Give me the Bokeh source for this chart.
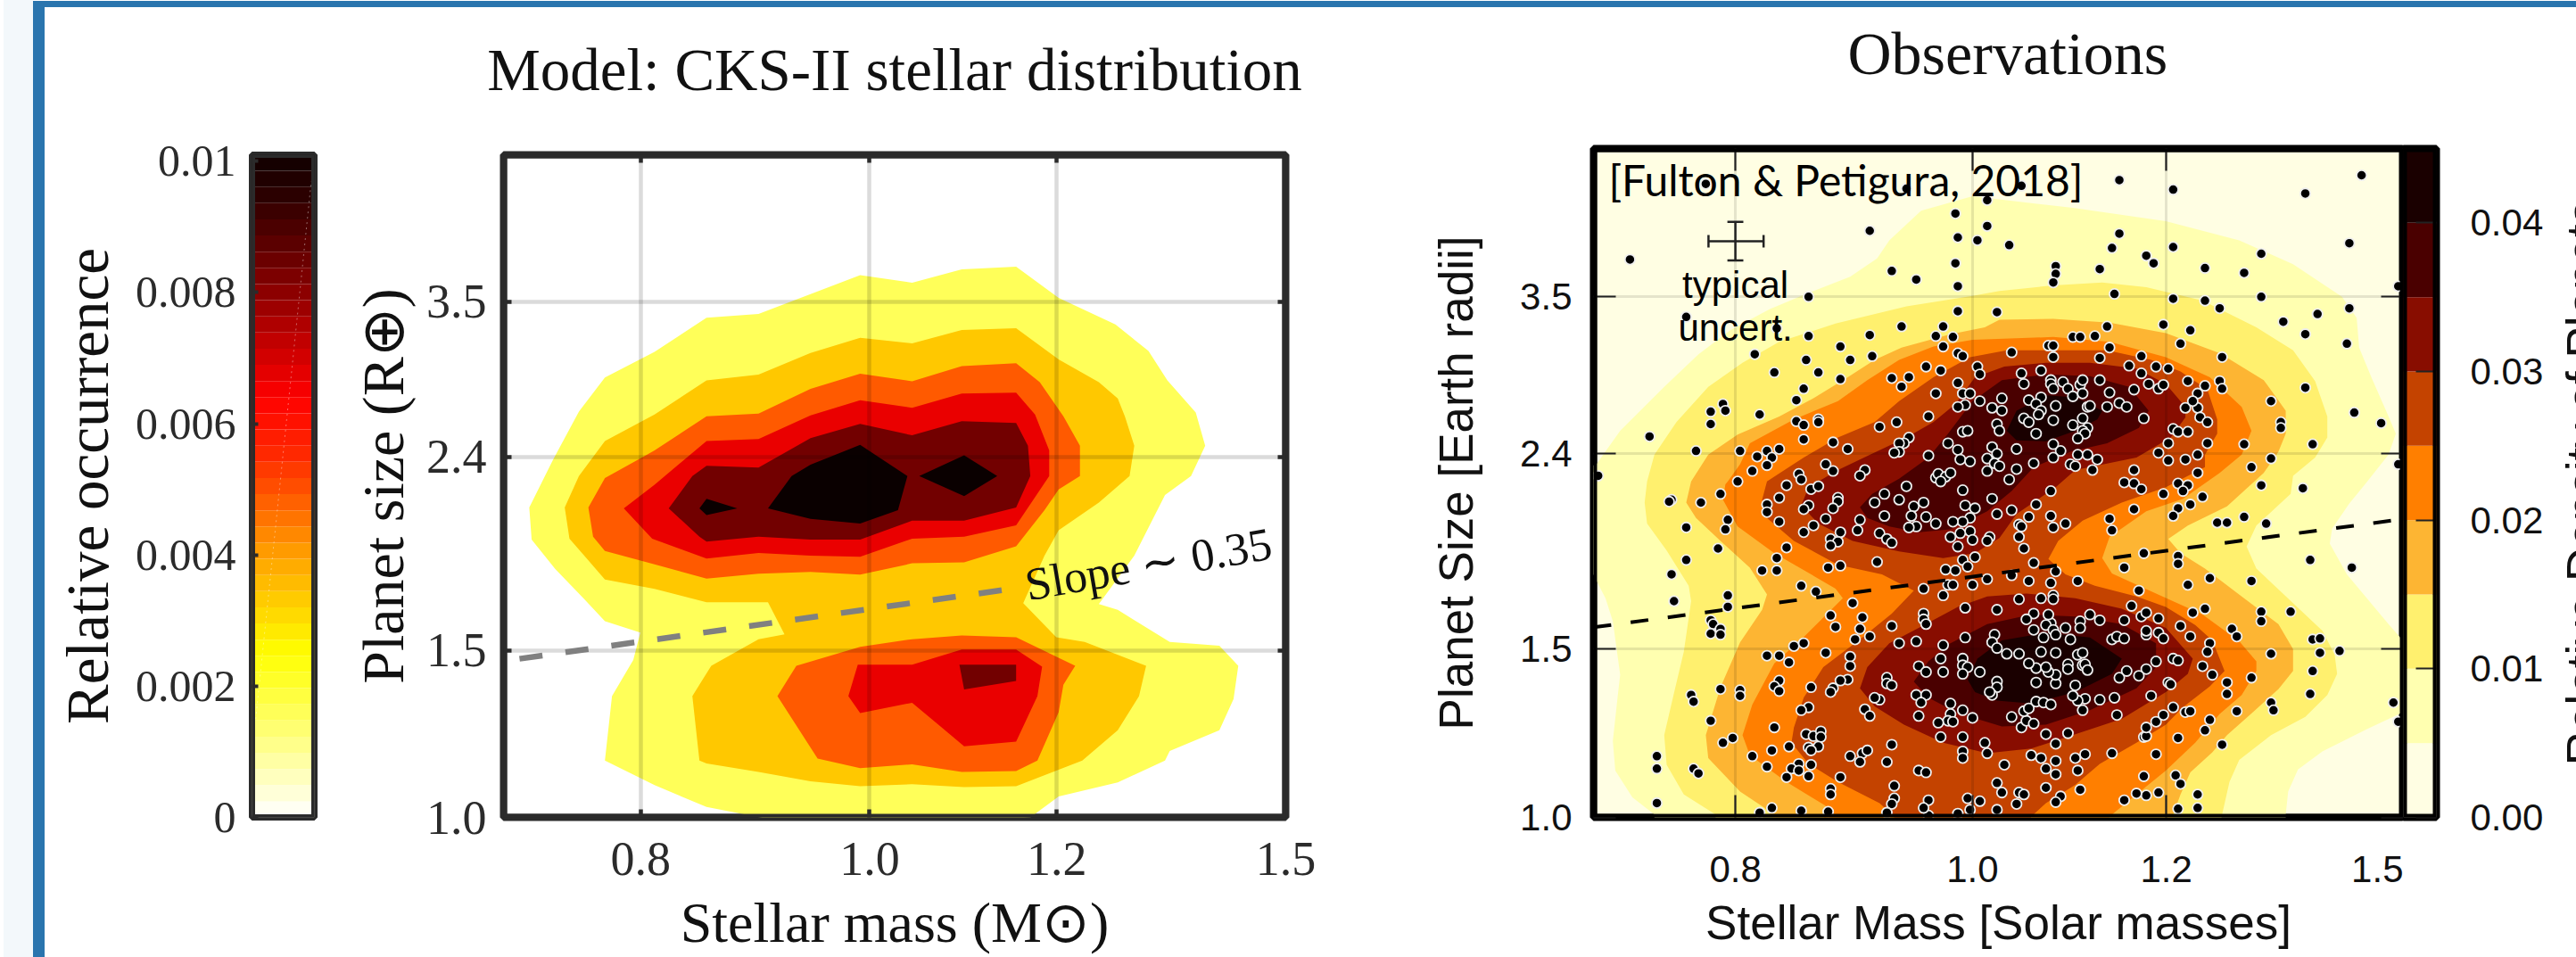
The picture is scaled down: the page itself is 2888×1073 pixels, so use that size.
import numpy as np
from bokeh.embed import file_html
from bokeh.layouts import row
from bokeh.models import BoxAnnotation, FixedTicker, LinearAxis, LogAxis, PrintfTickFormatter, Range1d, Title
from bokeh.plotting import figure
from bokeh.resources import INLINE
from bokeh.core.properties import value

# ---------- values: (log10 stellar mass, log10 planet radius) ----------
x_ticks = [0.8, 1.0, 1.2, 1.5]
y_ticks = [1.0, 1.5, 2.4, 3.5]
left_cb_ticks = [0, 0.002, 0.004, 0.006, 0.008, 0.01]
right_cb_ticks = [0.0, 0.01, 0.02, 0.03, 0.04]
right_levels = [0.0, 0.005, 0.01, 0.015, 0.02, 0.025, 0.03, 0.035, 0.04, 0.045]
right_colors = ["#fffee3", "#ffffb0", "#fff06e", "#fdb533", "#ff7f00", "#c44300", "#880d00", "#4a0000", "#1a0000"]
left_cb_stops = [(0, "#ffffff"), (0.0012, "#ffff80"), (0.0025, "#ffff00"), (0.004, "#ffa000"), (0.0055, "#ff2a00"),
                 (0.0064, "#ff0000"), (0.008, "#8c0000"), (0.0095, "#2a0000"), (0.0101, "#100000")]

model_1 = [(-.004,.572),(.018,.564),(.039,.578),(.062,.581),(.080,.548),(.104,.520),(.118,.492),(.126,.461),(.138,.427),(.142,.392),(.136,.360),(.125,.340),(.112,.276),(.097,.225),(.105,.219),(.127,.185),(.148,.181),(.156,.160),(.154,.125),(.148,.092),(.127,.070),(.125,.060),(.105,.037),(.080,.022),(.068,.000),(.038,-.005),(-.036,-.005),(-.069,.011),(-.091,.034),(-.112,.060),(-.109,.128),(-.100,.166),(-.097,.195),(-.112,.207),(-.121,.231),(-.133,.262),(-.143,.293),(-.144,.327),(-.134,.377),(-.123,.428),(-.112,.464),(-.091,.491),(-.069,.527),(-.047,.531),(-.025,.552)]
model_2 = [(-.004,.506),(.018,.500),(.039,.514),(.062,.516),(.080,.483),(.097,.459),(.105,.442),(.108,.423),(.112,.392),(.110,.360),(.097,.332),(.080,.303),(.074,.276),(.065,.226),(.079,.190),(.091,.185),(.117,.160),(.114,.128),(.105,.092),(.090,.060),(.062,.033),(.040,.032),(.018,.035),(-.004,.033),(-.025,.038),(-.047,.048),(-.069,.057),(-.072,.060),(-.075,.128),(-.067,.160),(-.047,.188),(-.036,.193),(-.043,.227),(-.069,.227),(-.091,.241),(-.112,.251),(-.120,.274),(-.127,.294),(-.129,.327),(-.123,.360),(-.112,.397),(-.091,.425),(-.069,.461),(-.047,.467),(-.025,.490)]
model_3a = [(-.004,.468),(.018,.460),(.039,.476),(.062,.479),(.072,.459),(.082,.423),(.089,.392),(.089,.360),(.080,.346),(.074,.324),(.062,.286),(.040,.269),(.018,.268),(-.004,.256),(-.025,.259),(-.047,.257),(-.069,.252),(-.091,.267),(-.112,.281),(-.117,.296),(-.119,.327),(-.112,.358),(-.091,.387),(-.069,.423),(-.047,.426),(-.025,.452)]
model_3b = [(-.031,.160),(-.004,.180),(.018,.188),(.039,.192),(.062,.190),(.087,.160),(.082,.140),(.080,.111),(.071,.060),(.062,.049),(.039,.048),(.018,.056),(-.004,.052),(-.022,.062),(-.039,.128)]
model_4a = [(-.004,.440),(.018,.432),(.039,.447),(.062,.448),(.070,.425),(.076,.387),(.076,.360),(.062,.308),(.040,.296),(.018,.294),(-.004,.275),(-.025,.276),(-.047,.279),(-.069,.273),(-.092,.294),(-.104,.326),(-.091,.351),(-.069,.397),(-.047,.399),(-.025,.424)]
model_4b = [(-.005,.161),(.018,.161),(.039,.177),(.062,.177),(.073,.159),(.071,.128),(.062,.080),(.040,.075),(.030,.096),(.018,.121),(-.004,.110),(-.009,.128)]
model_5a = [(-.004,.415),(.018,.403),(.039,.418),(.062,.416),(.067,.392),(.068,.360),(.062,.327),(.040,.313),(.018,.313),(-.004,.293),(-.025,.293),(-.047,.296),(-.069,.291),(-.072,.296),(-.085,.326),(-.075,.360),(-.069,.371),(-.047,.369),(-.025,.400)]
model_5b = [(.038,.161),(.062,.161),(.062,.144),(.040,.135)]
model_6a = [(-.004,.393),(.016,.360),(.012,.324),(-.004,.310),(-.025,.315),(-.043,.326),(-.033,.360),(-.025,.372)]
model_6b = [(.040,.382),(.054,.360),(.040,.339),(.021,.360)]
model_6c = [(-.069,.336),(-.056,.326),(-.069,.319),(-.072,.326)]
model_regions = [("#ffff59", model_1), ("#ffc800", model_2), ("#ff5a00", model_3a), ("#ff5a00", model_3b),
                 ("#ea0000", model_4a), ("#ea0000", model_4b), ("#720000", model_5a), ("#720000", model_5b),
                 ("#0a0000", model_6a), ("#0a0000", model_6b), ("#0a0000", model_6c)]

obs_1 = [(-.160,.368),(-.154,.368),(-.144,.404),(-.126,.450),(-.112,.484),(-.099,.509),(-.083,.531),(-.068,.547),(-.050,.565),(-.039,.584),(-.034,.603),(-.021,.634),(0,.649),(.041,.637),(.079,.623),(.109,.603),(.131,.578),(.151,.544),(.157,.522),(.158,.491),(.163,.460),(.169,.425),(.173,.401),(.170,.379),(.161,.350),(.154,.328),(.147,.302),(.146,.286),(.153,.254),(.170,.202),(.180,.173),(.180,.115),(.161,.092),(.143,.069),(.133,.050),(.129,.027),(.128,.003),(.128,-.01),(-.130,-.01),(-.130,.003),(-.139,.021),(-.146,.049),(-.147,.080),(-.145,.127),(-.144,.149),(-.147,.205),(-.150,.229),(-.155,.254),(-.160,.254)]
obs_2 = [(-.133,.351),(-.130,.379),(-.121,.413),(-.108,.450),(-.094,.475),(-.079,.497),(-.056,.516),(-.027,.534),(0,.545),(.011,.550),(.033,.556),(.053,.559),(.071,.554),(.094,.540),(.116,.512),(.131,.488),(.140,.456),(.145,.419),(.145,.397),(.140,.376),(.131,.357),(.130,.338),(.116,.305),(.112,.283),(.116,.260),(.131,.224),(.143,.195),(.148,.170),(.149,.150),(.145,.128),(.136,.105),(.122,.086),(.109,.060),(.105,.037),(.102,.003),(.101,-.01),(-.105,-.01),(-.105,.003),(-.118,.024),(-.125,.055),(-.126,.086),(-.122,.130),(-.118,.173),(-.115,.226),(-.116,.242),(-.125,.279),(-.133,.307),(-.134,.329)]
obs_3 = [(-.115,.351),(-.108,.379),(-.096,.400),(-.079,.419),(-.065,.438),(-.051,.460),(-.040,.478),(-.029,.491),(-.009,.505),(.005,.512),(.011,.520),(.033,.521),(.056,.517),(.079,.506),(.101,.485),(.119,.457),(.128,.425),(.128,.401),(.125,.382),(.119,.360),(.104,.325),(.088,.305),(.080,.291),(.085,.276),(.095,.260),(.110,.231),(.125,.202),(.131,.176),(.131,.153),(.125,.134),(.115,.111),(.104,.086),(.098,.068),(.089,.047),(.085,.024),(.082,.003),(.082,-.01),(-.078,-.01),(-.085,.010),(-.095,.027),(-.108,.062),(-.109,.086),(-.103,.136),(-.095,.183),(-.086,.217),(-.084,.233),(-.091,.261),(-.103,.289),(-.113,.313),(-.117,.329)]
obs_4 = [(-.061,-.01),(-.060,.012),(-.076,.037),(-.091,.065),(-.094,.086),(-.090,.118),(-.081,.161),(-.070,.186),(-.053,.229),(-.056,.239),(-.068,.257),(-.081,.276),(-.096,.304),(-.102,.332),(-.101,.348),(-.100,.351),(-.095,.369),(-.091,.391),(-.073,.416),(-.055,.435),(-.043,.457),(-.030,.478),(-.016,.492),(0,.499),(.033,.502),(.056,.497),(.079,.481),(.097,.460),(.110,.429),(.114,.404),(.110,.379),(.101,.360),(.086,.333),(.071,.320),(.056,.293),(.053,.271),(.057,.255),(.075,.234),(.094,.212),(.109,.184),(.116,.163),(.116,.153),(.110,.128),(.101,.108),(.091,.078),(.079,.049),(.067,.024),(.056,.001),(.055,-.01)]
obs_5 = [(-.086,.332),(-.084,.351),(-.069,.376),(-.055,.397),(-.040,.413),(-.030,.435),(-.016,.460),(-.001,.481),(.014,.488),(.030,.488),(.055,.488),(.073,.478),(.085,.466),(.096,.447),(.100,.416),(.100,.401),(.095,.379),(.095,.366),(.079,.345),(.061,.329),(.045,.310),(.035,.289),(.031,.270),(.038,.254),(.050,.242),(.067,.231),(.079,.220),(.091,.201),(.098,.185),(.103,.153),(.097,.137),(.086,.115),(.079,.097),(.067,.078),(.052,.056),(.042,.034),(.030,.015),(.024,.001),(.023,-.01),(-.032,-.01),(-.032,.001),(-.038,.015),(-.055,.037),(-.067,.056),(-.074,.078),(-.073,.094),(-.069,.125),(-.061,.157),(-.045,.188),(-.033,.213),(-.024,.237),(-.037,.254),(-.055,.264),(-.073,.289),(-.084,.313)]
obs_6a = [(-.070,.326),(-.067,.345),(-.055,.363),(-.037,.385),(-.027,.397),(-.016,.413),(-.007,.432),(.001,.460),(.013,.471),(.030,.475),(.048,.475),(.067,.469),(.079,.453),(.087,.429),(.087,.418),(.081,.397),(.067,.376),(.042,.363),(.034,.345),(.018,.317),(.011,.292),(.001,.276),(-.012,.271),(-.030,.278),(-.049,.289),(-.063,.307)]
obs_6b = [(-.046,.135),(-.043,.157),(-.034,.182),(-.022,.198),(-.006,.220),(.006,.231),(.022,.234),(.042,.229),(.061,.218),(.079,.198),(.090,.166),(.088,.150),(.079,.131),(.061,.103),(.042,.087),(.024,.072),(.006,.067),(-.012,.078),(-.028,.097),(-.040,.116)]
obs_7a = [(-.046,.324),(-.041,.338),(-.030,.354),(-.018,.376),(-.010,.401),(0,.435),(.012,.457),(.030,.463),(.048,.461),(.064,.450),(.072,.425),(.068,.407),(.055,.391),(.040,.382),(.025,.366),(.016,.341),(.006,.320),(-.009,.301),(-.022,.298),(-.034,.304),(-.043,.313)]
obs_7b = [(-.024,.142),(-.018,.163),(-.009,.182),(.006,.202),(.024,.212),(.042,.210),(.061,.202),(.075,.182),(.075,.157),(.067,.135),(.048,.112),(.030,.097),(.012,.095),(-.006,.109),(-.018,.125)]
obs_8a = [(.014,.404),(.018,.425),(.030,.441),(.042,.439),(.053,.425),(.051,.416),(.042,.404),(.030,.393),(.018,.394)]
obs_8b = [(-.002,.144),(.002,.166),(.012,.185),(.030,.193),(.048,.188),(.061,.166),(.057,.150),(.042,.131),(.024,.119),(.010,.122),(.001,.131)]
obs_regions = [(1, obs_1), (2, obs_2), (3, obs_3), (4, obs_4), (5, obs_5), (6, obs_6a), (6, obs_6b),
               (7, obs_7a), (7, obs_7b), (8, obs_8a), (8, obs_8b)]

planets_upper_left = [(-.089,.484),(-.054,.492),(-.068,.478),(-.050,.478),(-.041,.482),(-.081,.465),(-.063,.465),(-.054,.458),(-.069,.448),(-.072,.436),(-.087,.421),(-.072,.414),(-.063,.416),(-.063,.413),(-.069,.410),(-.038,.408),(-.031,.413),(-.069,.395),(-.057,.392),(-.051,.385),(-.079,.385),(-.084,.383),(-.088,.377),(-.082,.376),(-.084,.368),(-.090,.362),(-.060,.369),(-.057,.362),(-.071,.359),(-.070,.353),(-.044,.363),(-.046,.357),(-.076,.347),(-.066,.343),(-.063,.346),(-.079,.334),(-.084,.327),(-.084,.319),(-.079,.309),(-.055,.334),(-.055,.330),(-.067,.326),(-.069,.322),(-.057,.323),(-.060,.312),(-.065,.305),(-.069,.298),(-.054,.298),(-.058,.291),(-.055,.288),(-.058,.284),(-.076,.282),(-.080,.271),(-.086,.258),(-.080,.258),(-.059,.261),(-.054,.263)]
planets_upper_mid = [(-.033,.459),(-.029,.450),(-.026,.460),(-.019,.471),(-.013,.467),(-.012,.492),(-.006,.485),(-.004,.482),(.002,.471),(.003,.463),(.016,.486),(.020,.464),(.021,.453),(.028,.467),(.031,.493),(.033,.493),(.033,.481),(.052,.480),(.056,.491),(.064,.472),(.069,.482),(.069,.464),(.075,.471),(.080,.469),(.085,.495),(.088,.456),(.095,.451),(.092,.443),(.072,.453),(.076,.448),(.078,.452),(.066,.447),(-.015,.443),(-.006,.454),(-.004,.443),(-.001,.443),(-.003,.431),(-.006,.429),(.003,.435),(.012,.438),(.008,.428),(.012,.425),(-.018,.419),(.010,.411),(.011,.404),(-.004,.403),(-.002,.404),(-.026,.397),(-.028,.391),(-.030,.391),(-.030,.382),(-.032,.381),(-.018,.378),(-.010,.391),(-.006,.384),(-.005,.374),(-.001,.372),(.008,.387),(.010,.380),(.006,.375),(.009,.370),(.011,.367),(.006,.362),(.018,.385),(.018,.364),(.015,.353),(.025,.370),(-.015,.355),(-.014,.359),(-.011,.356),(-.013,.351),(-.009,.360),(-.027,.346),(-.036,.338),(-.040,.329),(-.030,.332),(-.036,.315),(-.024,.325),(-.020,.329),(-.025,.315),(-.019,.314),(-.015,.307),(-.023,.304),(-.026,.303),(-.046,.311),(-.047,.300),(-.038,.297),(-.035,.291),(-.033,.287),(-.004,.342),(.008,.333),(-.003,.326),(.001,.323),(-.001,.313),(-.004,.309),(-.008,.309),(-.001,.299),(-.005,.297),(-.009,.293),(0,.290),(.007,.293),(.006,.289),(-.006,.283),(.016,.321),(.010,.317),(.026,.327),(.023,.314),(.032,.341),(.032,.315),(.038,.307),(.033,.303),(.019,.306),(.020,.304),(.019,.293),(.021,.281),(-.004,.269),(.001,.272),(-.002,.262),(-.039,.267),(-.011,.259),(-.007,.258),(.025,.266),(.034,.257),(.097,.250),(.062,.261),(.070,.276),(.084,.273),(.084,.265)]
planets_upper_right = [(.023,.436),(.028,.439),(.026,.432),(.028,.425),(.027,.421),(.021,.417),(.023,.413),(.026,.401),(.033,.415),(.034,.430),(.032,.457),(.032,.453),(.033,.448),(.037,.455),(.039,.448),(.041,.440),(.044,.452),(.045,.457),(.045,.443),(.052,.457),(.056,.444),(.055,.429),(.060,.433),(.063,.429),(.070,.417),(.047,.429),(.048,.430),(.045,.417),(.041,.410),(.047,.407),(.045,.404),(.046,.401),(.043,.396),(.033,.390),(.036,.383),(.033,.376),(.043,.379),(.047,.379),(.051,.374),(.040,.369),(.042,.367),(.049,.363),(.066,.363),(.062,.350),(.066,.349),(.069,.343),(.078,.338),(.084,.349),(.088,.347),(.086,.341),(.094,.335),(.089,.327),(.084,.323),(.082,.315),(.066,.322),(.056,.312),(.057,.300),(.080,.391),(.076,.381),(.080,.373),(.087,.374),(.092,.379),(.096,.391),(.082,.406),(.084,.403),(.088,.403),(.087,.428),(.092,.428),(.090,.435),(.093,.418),(.096,.413),(.092,.360)]
planets_lower = [(-.070,.242),(-.064,.236),(-.049,.224),(-.058,.211),(-.056,.199),(-.045,.209),(-.046,.197),(-.042,.189),(-.048,.186),(-.073,.179),(-.069,.182),(-.084,.169),(-.079,.169),(-.075,.162),(-.060,.172),(-.050,.168),(-.050,.158),(-.033,.200),(-.030,.182),(-.023,.184),(-.020,.239),(-.020,.213),(-.020,.207),(-.019,.202),(-.012,.232),(-.003,.219),(.010,.217),(.019,.228),(.028,.229),(.033,.232),(.033,.228),(.043,.247),(.023,.247),(.032,.245),(0,.243),(.016,.253),(.006,.249),(-.010,.243),(-.008,.243),(.068,.237),(.088,.243),(.065,.221),(.069,.210),(.071,.214),(.076,.208),(.085,.200),(.090,.214),(.095,.218),(.062,.206),(.052,.206),(.048,.212),(.044,.205),(.044,.198),(.038,.198),(.032,.203),(.031,.212),(.025,.213),(.022,.207),(.030,.201),(.033,.196),(.034,.191),(.025,.196),(.029,.188),(.040,.186),(.009,.191),(.008,.183),(.010,.177),(.014,.171),(.019,.171),(-.003,.188),(-.012,.180),(-.013,.166),(-.022,.158),(-.019,.152),(-.012,.152),(-.004,.166),(-.004,.159),(-.002,.157),(-.004,.150),(.003,.152),(-.035,.146),(-.035,.140),(-.033,.138),(-.051,.144),(-.054,.143),(-.057,.135),(-.058,.131),(-.066,.136),(-.079,.143),(-.081,.137),(-.079,.132),(-.038,.123),(-.040,.125),(-.023,.128),(-.019,.128),(-.021,.120),(-.009,.119),(-.009,.108),(-.010,.101),(-.008,.100),(-.004,.112),(0,.104),(-.014,.099),(-.022,.106),(-.044,.113),(-.042,.106),(-.067,.115),(-.070,.112),(-.081,.094),(-.068,.087),(-.065,.085),(-.062,.090),(-.062,.084),(-.063,.074),(-.067,.073),(-.066,.070),(-.075,.074),(-.082,.070),(-.090,.064),(-.084,.053),(-.071,.056),(-.066,.055),(-.074,.051),(-.071,.049),(-.076,.042),(-.067,.043),(-.054,.042),(-.050,.064),(-.045,.067),(-.043,.070),(-.046,.058),(-.035,.058),(-.033,.076),(-.013,.084),(-.004,.084),(-.004,.069),(-.004,.062),(.005,.078),(.006,.067),(.013,.055),(.024,.065),(.028,.062),(.034,.059),(.030,.051),(.034,.045),(.042,.062),(.046,.066),(.043,.049),(.057,.067),(.075,.066),(.070,.084),(.071,.085),(.071,.094),(.075,.100),(.078,.107),(.082,.115),(.087,.110),(.089,.111),(.084,.083),(.095,.091),(.097,.102),(.059,.107),(.058,.125),(.052,.123),(.046,.124),(.045,.112),(.043,.122),(.041,.127),(.042,.138),(.016,.105),(.020,.094),(.022,.101),(.025,.098),(.021,.111),(.023,.114),(.026,.121),(.029,.120),(.032,.118),(.030,.087),(.039,.088),(.034,.077),(.010,.142),(.010,.136),(.008,.128),(.007,.131),(.026,.141),(.034,.140),(.034,.149),(.031,.152),(.026,.156),(.023,.161),(.030,.157),(.028,.173),(.034,.172),(.043,.170),(.045,.172),(.039,.160),(.039,.155),(.045,.159),(.046,.160),(.047,.154),(.057,.186),(.059,.189),(.062,.187),(.071,.191),(.071,.195),(.076,.193),(.078,.187),(.075,.163),(.082,.166),(.084,.164),(.071,.155),(.068,.148),(.063,.153),(.060,.146),(.080,.141),(.081,.139),(.073,.127),(.094,.158),(.089,.189),(.097,.182),(.096,.173),(.098,.149),(.070,.043),(.083,.044),(.085,.035),(.092,.024),(.092,.010),(.084,.009),(.076,.026),(.071,.023),(.067,.025),(.062,.018),(.044,.029),(.036,.022),(.034,.016),(.030,.031),(.019,.026),(.021,.024),(.018,.014),(.012,.026),(.010,.036),(.010,.008),(.003,.017),(-.002,.020),(-.001,.008),(-.006,.004),(-.018,.002),(-.018,.018),(-.020,.010),(-.032,.033),(-.032,.020),(-.033,.014),(-.035,.005),(-.022,.049),(-.019,.047),(-.058,.030),(-.058,.024),(-.059,.006),(-.070,.007),(-.082,.010),(-.087,.005)]
planets_top = [(-.140,.583),(-.109,.662),(-.042,.613),(-.027,.657),(-.007,.631),(-.006,.606),(.002,.603),(.006,.645),(.006,.618),(.015,.598),(.020,.660),(-.033,.571),(-.023,.562),(-.007,.579),(-.006,.555),(-.006,.529),(.010,.528),(-.067,.544),(-.117,.523),(-.080,.511),(-.067,.503),(-.042,.504),(-.029,.513),(-.012,.513),(-.015,.503),(-.008,.502),(.034,.576),(.034,.568),(.033,.559),(-.102,.432),(-.101,.425),(-.107,.424),(-.107,.411),(-.132,.398),(-.113,.383),(-.095,.383),(-.153,.357)]
planets_top_right = [(.060,.666),(.082,.656),(.136,.652),(.159,.671),(.060,.610),(.057,.595),(.052,.573),(.071,.587),(.074,.579),(.082,.596),(.095,.574),(.111,.569),(.118,.589),(.154,.600),(.174,.555),(.058,.547),(.082,.542),(.095,.540),(.101,.532),(.118,.544),(.127,.518),(.141,.526),(.154,.532),(.136,.505),(.153,.495),(.055,.513),(.078,.515),(.089,.509),(.041,.502),(.044,.502),(.050,.503),(.102,.481),(.101,.456),(.102,.448),(.122,.435),(.126,.413),(.126,.407),(.111,.390),(.139,.390),(.136,.449),(.156,.423),(.167,.412),(.122,.375),(.114,.366),(.174,.369)]
planets_right = [(.118,.347),(.135,.344),(.111,.314),(.100,.308),(.104,.308),(.120,.307),(.138,.269),(.155,.261),(.114,.247),(.118,.215),(.130,.215),(.118,.205),(.106,.197),(.108,.189),(.139,.186),(.142,.187),(.142,.172),(.150,.174),(.122,.171),(.139,.153),(.114,.146),(.104,.141),(.104,.129),(.138,.129),(.122,.120),(.123,.112),(.108,.111),(.102,.076),(.172,.120),(.174,.100)]
planets_left = [(-.096,.351),(-.123,.332),(-.124,.330),(-.111,.329),(-.103,.338),(-.117,.303),(-.100,.311),(-.101,.301),(-.104,.281),(-.117,.269),(-.123,.254),(-.122,.226),(-.100,.232),(-.100,.220),(-.107,.206),(-.106,.202),(-.103,.197),(-.107,.192),(-.103,.191),(-.115,.128),(-.114,.121),(-.103,.134),(-.095,.133),(-.095,.127),(-.107,.101),(-.098,.083),(-.102,.078),(-.129,.064),(-.129,.051),(-.114,.051),(-.112,.046),(-.129,.015)]
planet_groups = [planets_top, planets_top_right, planets_left, planets_right, planets_upper_left,
                 planets_upper_mid, planets_upper_right, planets_lower]

slope_left_mass = [0.711, 1.144]
slope_left_radius = [1.47, 1.74]
slope_right_mass = [0.70, 1.50]
slope_right_radius = [1.58, 2.05]

SERIF = "Liberation Serif"
SANS = "Liberation Sans"
INK = "#2b2b2b"
TEXT = "#111111"
H = 1073


def unlog(points):
    return [10 ** a for a, _ in points], [10 ** b for _, b in points]


def base_fig(width, left, right, top, x_range, y_range, **kw):
    f = figure(width=width, height=H, min_border_left=left, min_border_right=right, min_border_top=top,
               min_border_bottom=157, x_range=x_range, y_range=y_range, toolbar_location=None,
               output_backend="svg", border_fill_color=None, frame_align=False, **kw)
    return f


def frame_border(f, color, width):
    f.outline_line_color = color
    f.outline_line_width = width
    f.outline_line_alpha = 1
    f.add_layout(BoxAnnotation(fill_alpha=0, fill_color=None, line_color=color, line_alpha=1, line_width=width, level="overlay"))


def style_axis(ax, font, size, color, tick_in, tick_w, tick_color, standoff, fmt=None, ticks=None):
    ax.ticker = FixedTicker(ticks=ticks)
    ax.minor_tick_line_color = None
    ax.major_tick_out = 0
    ax.major_tick_in = tick_in
    ax.major_tick_line_width = tick_w
    ax.major_tick_line_color = tick_color
    ax.axis_line_color = None
    ax.major_label_text_font = font
    ax.major_label_text_font_size = size
    ax.major_label_text_color = color
    ax.major_label_standoff = standoff
    if fmt:
        ax.formatter = PrintfTickFormatter(format=fmt)


def bare_axis(ticks):
    ax = LogAxis(ticker=FixedTicker(ticks=ticks))
    ax.minor_tick_line_color = None
    ax.axis_line_color = None
    ax.major_label_text_font_size = "1px"
    ax.major_label_text_color = None
    ax.major_label_standoff = 0
    return ax


def mirror(f, tick_in, tick_w, tick_color, title_room):
    for ticks, place in ((x_ticks, "above"), (y_ticks, "right")):
        ax = bare_axis(ticks)
        ax.major_tick_out = 0
        ax.major_tick_in = tick_in
        ax.major_tick_line_width = tick_w
        ax.major_tick_line_color = tick_color
        f.add_layout(ax, place)
    spacer = bare_axis(x_ticks)
    spacer.major_tick_in = 0
    spacer.major_tick_out = title_room
    spacer.major_tick_line_color = None
    f.add_layout(spacer, "above")


def grid(f, color, alpha, width):
    for g in f.grid:
        g.level = "underlay"
        g.grid_line_color = color
        g.grid_line_alpha = alpha
        g.grid_line_width = width


def axis_label(ax, text, font, size, standoff):
    ax.axis_label = text
    ax.axis_label_text_font = font
    ax.axis_label_text_font_size = size
    ax.axis_label_text_font_style = "normal"
    ax.axis_label_text_color = TEXT
    ax.axis_label_standoff = standoff


# ---------- left colour bar ----------
fig_a = base_fig(370, 282, 18, 173, Range1d(0, 1), Range1d(0, 0.0101))
stop_v = [s[0] for s in left_cb_stops]
stop_rgb = np.array([[int(s[1][i:i + 2], 16) for i in (1, 3, 5)] for s in left_cb_stops], float)
edges = np.linspace(0, 0.0101, 42)
mids = (edges[:-1] + edges[1:]) / 2
band_colors = ["#%02x%02x%02x" % tuple(int(round(np.interp(m, stop_v, stop_rgb[:, c]))) for c in range(3)) for m in mids]
fig_a.quad(left=0, right=1, bottom=edges[:-1], top=edges[1:], fill_color=band_colors, line_color=None, level="image")
fig_a.line([0.06, 0.95], [0.0015, 0.0097], line_color="white", line_alpha=0.4, line_width=1, line_dash="2 4")
fig_a.xaxis.visible = False
fig_a.xgrid.visible = False
fig_a.ygrid.visible = False
ya = fig_a.yaxis[0]
style_axis(ya, SERIF, "50px", INK, 7, 4, INK, 18, None, left_cb_ticks)
ya.major_label_overrides = {0: "0", 0.002: "0.002", 0.004: "0.004", 0.006: "0.006", 0.008: "0.008", 0.01: "0.01"}
axis_label(ya, "Relative occurrence", SERIF, "67px", 14)
frame_border(fig_a, INK, 7)

# ---------- model panel ----------
fig_b = base_fig(1230, 194, 159, 173, Range1d(0.7, 1.5), Range1d(1.0, 5.0), x_axis_type="log", y_axis_type="log")
for col, poly in model_regions:
    xs, ys = unlog(poly)
    fig_b.patch(xs, ys, fill_color=col, line_color=None, level="image")
grid(fig_b, "#000000", 0.14, 4.5)
fig_b.line(slope_left_mass, slope_left_radius, line_color="#808080", line_width=6.5, line_dash="26 26")
fig_b.text([1.312], [1.85], text=["Slope ∼ 0.35"], angle=0.17, text_font=value(SERIF), text_font_size="52px",
           text_align="center", text_baseline="middle", text_color=TEXT)
style_axis(fig_b.xaxis[0], SERIF, "54px", INK, 9, 4.5, INK, 28, "%.1f", x_ticks)
style_axis(fig_b.yaxis[0], SERIF, "54px", INK, 9, 4.5, INK, 19, "%.1f", y_ticks)
axis_label(fig_b.yaxis[0], "Planet size (R⊕)", SERIF, "66px", 9)
axis_label(fig_b.xaxis[0], "Stellar mass (M⊙)", SERIF, "64px", 15)
mirror(fig_b, 9, 4.5, INK, 54)
frame_border(fig_b, INK, 8)
fig_b.add_layout(Title(text="Model: CKS-II stellar distribution", align="center", text_font=SERIF, text_font_size="67px",
                       text_font_style="normal", text_color=TEXT), "above")

# ---------- observations panel ----------
fig_c = base_fig(1094, 185, 0, 166, Range1d(0.7, 1.5), Range1d(1.0, 5.0), x_axis_type="log", y_axis_type="log",
                 background_fill_color=right_colors[0])
for lev, poly in obs_regions:
    xs, ys = unlog(poly)
    fig_c.patch(xs, ys, fill_color=right_colors[lev], line_color=None, level="image")
grid(fig_c, "#000000", 0.10, 3)
fig_c.line(slope_right_mass, slope_right_radius, line_color="black", line_width=4, line_dash="20 22", level="overlay")
px, py = [], []
for group in planet_groups:
    xs, ys = unlog(group)
    px += xs
    py += ys
fig_c.scatter(px, py, marker="circle", size=11.3, fill_color="black", line_color="#eeeeee", line_width=1.8)
# typical uncertainty cross
fig_c.segment([0.78, 0.80, 0.78, 0.8215, 0.794, 0.794], [4.0, 3.82, 3.94, 3.94, 4.19, 3.82],
              [0.8215, 0.80, 0.78, 0.8215, 0.806, 0.806], [4.0, 4.19, 4.06, 4.06, 4.19, 3.82],
              line_color="#222222", line_width=2.5)
fig_c.text([0.8, 0.8], [3.60, 3.245], text=["typical", "uncert."], text_font=value(SANS), text_font_size="42px",
           text_align="center", text_baseline="middle", text_color="black")
fig_c.text([0.71], [4.64], text=["[Fulton & Petigura, 2018]"], text_font=value("Lato"), text_font_size="48px",
           text_align="left", text_baseline="middle", text_color="black")
style_axis(fig_c.xaxis[0], SANS, "42px", TEXT, 25, 2.2, "#222222", 43, "%.1f", x_ticks)
style_axis(fig_c.yaxis[0], SANS, "42px", TEXT, 25, 2.2, "#222222", 24, "%.1f", y_ticks)
axis_label(fig_c.yaxis[0], "Planet Size [Earth radii]", SANS, "53px", 39)
axis_label(fig_c.xaxis[0], "Stellar Mass [Solar masses]", SANS, "53px", 13)
mirror(fig_c, 25, 2.2, "#222222", 64)
frame_border(fig_c, "black", 8)
fig_c.add_layout(Title(text="Observations", align="left", offset=285, text_font=SERIF, text_font_size="68px",
                       text_font_style="normal", text_color=TEXT), "above")

# ---------- right colour bar ----------
fig_d = base_fig(166, 0, 129, 166, Range1d(0, 1), Range1d(0, 0.045))
fig_d.quad(left=0, right=1, bottom=right_levels[:-1], top=right_levels[1:], fill_color=right_colors, line_color=None, level="image")
fig_d.xaxis.visible = False
fig_d.yaxis.visible = False
fig_d.xgrid.visible = False
fig_d.ygrid.visible = False
ax_d = LinearAxis()
style_axis(ax_d, SANS, "42px", TEXT, 23, 2.2, "#222222", 38, "%.2f", right_cb_ticks)
fig_d.add_layout(ax_d, "right")
frame_border(fig_d, "black", 8)

# ---------- colour bar title: its canvas runs past the window and the row crops it, as in the reference ----------
fig_e = base_fig(100, 65, 5, 166, Range1d(0, 1), Range1d(0, 0.045))
fig_e.outline_line_color = None
fig_e.xaxis.visible = False
fig_e.xgrid.visible = False
fig_e.ygrid.visible = False
ax_e = fig_e.yaxis[0]
ax_e.ticker = FixedTicker(ticks=[])
ax_e.minor_tick_line_color = None
ax_e.major_tick_line_color = None
ax_e.major_tick_in = 0
ax_e.major_tick_out = 0
ax_e.axis_line_color = None
ax_e.major_label_text_font_size = "1px"
ax_e.major_label_standoff = 0
axis_label(ax_e, "Relative Density of Planets", SANS, "53px", 0)

page = row(fig_a, fig_b, fig_c, fig_d, fig_e, spacing=0, width=2888, height=H, styles={
    "overflow": "hidden",
    "background-image": "linear-gradient(#2a75ae,#2a75ae),linear-gradient(#2a75ae,#2a75ae),linear-gradient(#f3f8fb,#f3f8fb)",
    "background-size": "100% 7px,13px 100%,33px 100%",
    "background-position": "37px 1px,37px 1px,4px 0",
    "background-repeat": "no-repeat",
})
open("out.html", "w").write(file_html(page, INLINE))
